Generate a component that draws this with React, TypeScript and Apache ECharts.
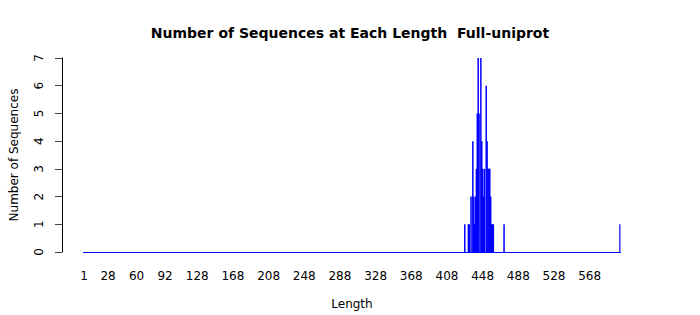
import React, { useEffect, useRef } from "react";
import * as echarts from "echarts";

const maxLength = 602;
const seqLengths = [428, 432, 433, 435, 437, 438, 439, 440, 441, 442, 443, 444, 446, 447, 448, 449, 450, 452, 453, 454, 455, 456, 457, 458, 459, 460, 472, 602];
const seqCounts = [1, 1, 1, 2, 4, 2, 1, 2, 3, 5, 7, 5, 7, 4, 3, 2, 3, 6, 4, 3, 3, 3, 2, 1, 1, 1, 1, 1];
const xTickLabels = ["1", "28", "60", "92", "128", "168", "208", "248", "288", "328", "368", "408", "448", "488", "528", "568"];
const yTicks = [0, 1, 2, 3, 4, 5, 6, 7];

const FONT = "DejaVu Sans";

export default function App() {
  const ref = useRef<HTMLDivElement>(null);
  useEffect(() => {
    document.body.style.margin = "0";
    if (!ref.current) return;
    const chart = echarts.init(ref.current, null, { renderer: "svg" });
    const categories: string[] = [];
    for (let i = 1; i <= maxLength; i++) categories.push(String(i));
    const countMap = new Map<number, number>();
    seqLengths.forEach((l, i) => countMap.set(l, seqCounts[i]));
    const values = categories.map((c) => countMap.get(Number(c)) ?? 0);
    const labelSet = new Set(xTickLabels);

    chart.setOption({
      animation: false,
      backgroundColor: "#fff",
      title: {
        text: "Number of Sequences at Each Length  Full-uniprot",
        left: "center",
        top: 21,
        textStyle: { fontFamily: FONT, fontSize: 14, fontWeight: "bold", color: "#000" },
      },
      grid: { left: 78.55, right: 79.55, top: 58, bottom: 60, containLabel: false },
      xAxis: {
        type: "category",
        data: categories,
        name: "Length",
        nameLocation: "middle",
        nameGap: 46,
        nameTextStyle: { fontFamily: FONT, fontSize: 12, color: "#000" },
        axisLine: { show: true, lineStyle: { color: "#0000ff", width: 1 } },
        axisTick: { show: false },
        axisLabel: {
          interval: (_i: number, v: string) => labelSet.has(v),
          margin: 18,
          fontFamily: FONT,
          fontSize: 12,
          color: "#000",
        },
        splitLine: { show: false },
      },
      yAxis: {
        type: "value",
        min: yTicks[0],
        max: yTicks[yTicks.length - 1],
        interval: 1,
        offset: 21.5,
        name: "Number of Sequences",
        nameLocation: "middle",
        nameGap: 42,
        nameTextStyle: { fontFamily: FONT, fontSize: 12, color: "#000" },
        axisLine: { show: true, lineStyle: { color: "#000", width: 1 } },
        axisTick: { show: true, length: 7, lineStyle: { color: "#444" } },
        axisLabel: {
          rotate: 90,
          margin: 17,
          fontFamily: FONT,
          fontSize: 12,
          color: "#000",
        },
        splitLine: { show: false },
      },
      series: [
        {
          type: "bar",
          data: values,
          barWidth: 1.5,
          itemStyle: { color: "#0000ff" },
        },
      ],
    });
    return () => chart.dispose();
  }, []);
  return <div ref={ref} style={{ width: 700, height: 315 }} />;
}
